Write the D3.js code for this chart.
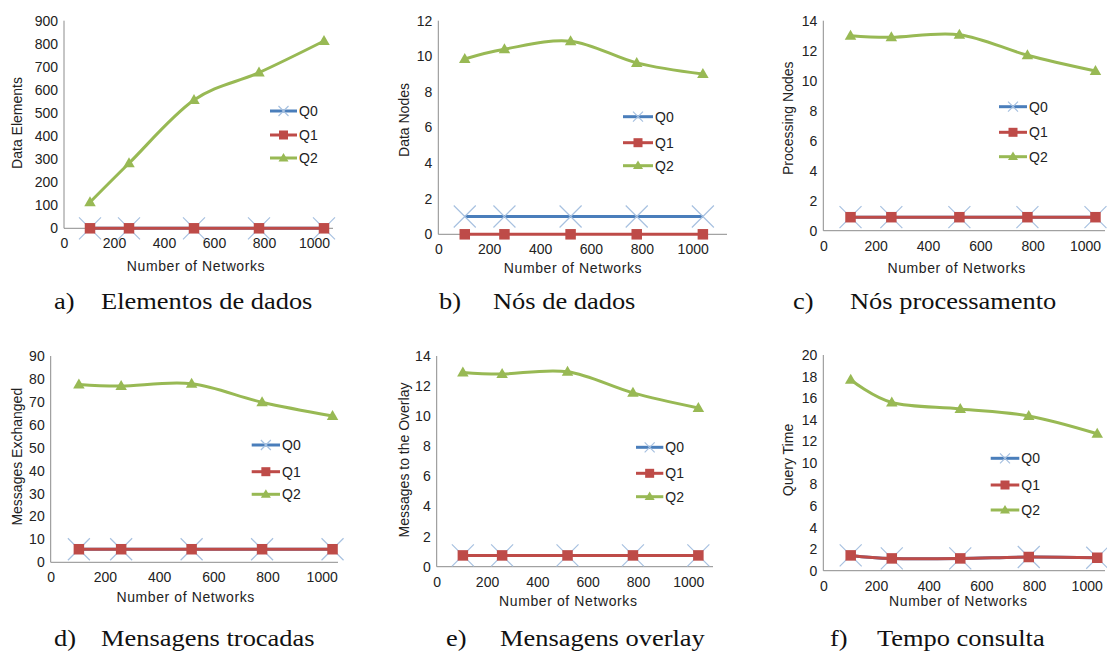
<!DOCTYPE html>
<html>
<head>
<meta charset="utf-8">
<script src="https://cdn.jsdelivr.net/npm/d3@7"></script>
<style>
  html, body { margin: 0; padding: 0; background: #fff; }
  svg { display: block; }
  text { font-family: "Liberation Sans", Arial, sans-serif; fill: #222; }
  .cap { font-family: "Liberation Serif", "Times New Roman", serif; fill: #111; }
</style>
</head>
<body>
<script>
// ---------- data ----------
const networks = [104, 260, 520, 780, 1040];
const seriesNames = ["Q0", "Q1", "Q2"];
const xTicks = [0, 200, 400, 600, 800, 1000];

const dataElementsQ0 = [0, 0, 0, 0, 0];
const dataElementsQ1 = [0, 0, 0, 0, 0];
const dataElementsQ2 = [113, 282, 556, 675, 812];

const dataNodesQ0 = [1, 1, 1, 1, 1];
const dataNodesQ1 = [0, 0, 0, 0, 0];
const dataNodesQ2 = [9.85, 10.4, 10.85, 9.63, 9.0];

const procNodesQ0 = [0.9, 0.9, 0.9, 0.9, 0.9];
const procNodesQ1 = [0.9, 0.9, 0.9, 0.9, 0.9];
const procNodesQ2 = [13.0, 12.9, 13.07, 11.7, 10.65];

const msgExQ0 = [5.7, 5.7, 5.7, 5.7, 5.7];
const msgExQ1 = [5.7, 5.7, 5.7, 5.7, 5.7];
const msgExQ2 = [77.6, 76.9, 77.9, 69.8, 63.8];

const msgOverlayQ0 = [0.75, 0.75, 0.75, 0.75, 0.75];
const msgOverlayQ1 = [0.75, 0.75, 0.75, 0.75, 0.75];
const msgOverlayQ2 = [12.9, 12.8, 12.95, 11.55, 10.55];

const queryTimeQ0 = [1.42, 1.14, 1.14, 1.27, 1.2];
const queryTimeQ1 = [1.42, 1.14, 1.14, 1.27, 1.2];
const queryTimeQ2 = [17.7, 15.6, 15.0, 14.35, 12.7];

const yTitles = ["Data Elements", "Data Nodes", "Processing Nodes",
                 "Messages Exchanged", "Messages to the Overlay", "Query Time"];
const yMax = [900, 12, 14, 90, 14, 20];
const yStep = [100, 2, 2, 10, 2, 2];
const captionLetters = ["a)", "b)", "c)", "d)", "e)", "f)"];
const captionTexts = ["Elementos de dados", "Nós de dados", "Nós processamento",
                      "Mensagens trocadas", "Mensagens overlay", "Tempo consulta"];
const xTitle = "Number of Networks";

const panelSeries = [
  [dataElementsQ0, dataElementsQ1, dataElementsQ2],
  [dataNodesQ0, dataNodesQ1, dataNodesQ2],
  [procNodesQ0, procNodesQ1, procNodesQ2],
  [msgExQ0, msgExQ1, msgExQ2],
  [msgOverlayQ0, msgOverlayQ1, msgOverlayQ2],
  [queryTimeQ0, queryTimeQ1, queryTimeQ2]
];

// ---------- layout (pixels) ----------
const layout = [
  {x0: 64,    x1000: 314,   xEnd: 333,  yB: 228.3, yT: 20.7, xt: [196, 266],   yt: [17, 123],    lg: [270, 297, 111, 135, 158],   cap: [54, 101, 309]},
  {x0: 438.3, x1000: 692.7, xEnd: 727,  yB: 234.3, yT: 20.7, xt: [573, 267.7], yt: [404.3, 120], lg: [623, 653, 116.7, 142.7, 165.7], cap: [439, 493, 309]},
  {x0: 823.3, x1000: 1085,  xEnd: 1105, yB: 230.7, yT: 20.7, xt: [956.7, 267.7], yt: [788.3, 118.3], lg: [999, 1027, 106.7, 132.3, 156.7], cap: [793, 850, 309]},
  {x0: 50.7,  x1000: 321.7, xEnd: 338,  yB: 562.3, yT: 356,  xt: [185.7, 596.7], yt: [17.3, 456.7], lg: [251.7, 280, 445, 471.7, 494.3], cap: [54, 101, 646]},
  {x0: 436.7, x1000: 688.3, xEnd: 713,  yB: 566.7, yT: 356,  xt: [568.3, 600.7], yt: [404.3, 460], lg: [636, 663.3, 447.3, 473.3, 496.7], cap: [446, 500, 646]},
  {x0: 823.3, x1000: 1086.7, xEnd: 1105, yB: 570.7, yT: 355, xt: [958.3, 600.7], yt: [788.3, 460], lg: [990.7, 1019.3, 458.3, 485, 510], cap: [830, 877, 646]}
];

const colors = ["#4A7EBB", "#BE4B48", "#98B954"];
const xMarkColor = "#A7C1E0";
const axisColor = "#8C8C8C";

const svg = d3.select("body").append("svg").attr("width", 1107).attr("height", 653);

function drawMarker(g, type, cx, cy, big) {
  if (type === 0) {
    const h = big ? 11 : 5;
    g.append("path")
      .attr("d", `M${cx - h},${cy - h}L${cx + h},${cy + h}M${cx - h},${cy + h}L${cx + h},${cy - h}`)
      .attr("stroke", xMarkColor).attr("stroke-width", 1.2).attr("fill", "none");
  } else if (type === 1) {
    const s = big ? 10.5 : 9;
    g.append("rect").attr("x", cx - s / 2).attr("y", cy - s / 2)
      .attr("width", s).attr("height", s).attr("fill", colors[1]);
  } else {
    const w = big ? 11.5 : 10, h = big ? 10 : 8.5;
    g.append("path")
      .attr("d", `M${cx},${cy - h * 0.6}L${cx + w / 2},${cy + h * 0.4}L${cx - w / 2},${cy + h * 0.4}Z`)
      .attr("fill", colors[2]);
  }
}

layout.forEach((L, i) => {
  const g = svg.append("g");
  const x = d3.scaleLinear().domain([0, 1000]).range([L.x0, L.x1000]);
  const y = d3.scaleLinear().domain([0, yMax[i]]).range([L.yB, L.yT]);
  const yTickVals = d3.range(0, yMax[i] + yStep[i] / 2, yStep[i]);

  // axes via d3.axis
  const yAxis = g.append("g").attr("transform", `translate(${L.x0},0)`)
    .call(d3.axisLeft(y).tickValues(yTickVals).tickSize(0).tickPadding(6).tickFormat(d3.format("d")));
  yAxis.select(".domain").attr("stroke", axisColor).attr("d", `M0,${L.yB}V${L.yT}`);
  yAxis.selectAll("text").attr("font-size", 14).attr("font-family", "Liberation Sans, Arial, sans-serif").attr("fill", "#222");

  const xAxis = g.append("g").attr("transform", `translate(0,${L.yB})`)
    .call(d3.axisBottom(x).tickValues(xTicks).tickSize(0).tickPadding(10).tickFormat(d3.format("d")));
  xAxis.select(".domain").attr("stroke", axisColor).attr("d", `M${L.x0},0H${L.xEnd}`);
  xAxis.selectAll("text").attr("font-size", 14).attr("font-family", "Liberation Sans, Arial, sans-serif").attr("fill", "#222");

  // titles
  g.append("text").attr("x", L.xt[0]).attr("y", L.xt[1]).attr("text-anchor", "middle")
    .attr("dominant-baseline", "central").attr("font-size", 14).attr("letter-spacing", 0.6).text(xTitle);
  g.append("text").attr("transform", `translate(${L.yt[0]},${L.yt[1]}) rotate(-90)`)
    .attr("text-anchor", "middle").attr("dominant-baseline", "central").attr("font-size", 14).text(yTitles[i]);

  // series
  const line = d3.line().x((d, j) => x(networks[j])).y(d => y(d)).curve(d3.curveCardinal.tension(0));
  panelSeries[i].forEach((vals, s) => {
    g.append("path").attr("d", line(vals)).attr("fill", "none")
      .attr("stroke", colors[s]).attr("stroke-width", 3).attr("stroke-linejoin", "round");
    vals.forEach((v, j) => drawMarker(g, s, x(networks[j]), y(v), true));
  });

  // legend
  seriesNames.forEach((name, s) => {
    const ly = L.lg[2 + s];
    g.append("line").attr("x1", L.lg[0]).attr("x2", L.lg[1]).attr("y1", ly).attr("y2", ly)
      .attr("stroke", colors[s]).attr("stroke-width", 3);
    drawMarker(g, s, (L.lg[0] + L.lg[1]) / 2, ly, false);
    g.append("text").attr("x", L.lg[1] + 2).attr("y", ly).attr("dominant-baseline", "central")
      .attr("font-size", 14).text(name);
  });

  // caption
  const c = g.append("g").attr("class", "cap-g");
  c.append("text").attr("class", "cap").attr("font-size", 23)
    .attr("transform", `translate(${L.cap[0]},${L.cap[2]}) scale(1.15,1)`).text(captionLetters[i]);
  c.append("text").attr("class", "cap").attr("font-size", 23)
    .attr("transform", `translate(${L.cap[1]},${L.cap[2]}) scale(1.15,1)`).text(captionTexts[i]);
});
</script>
</body>
</html>
